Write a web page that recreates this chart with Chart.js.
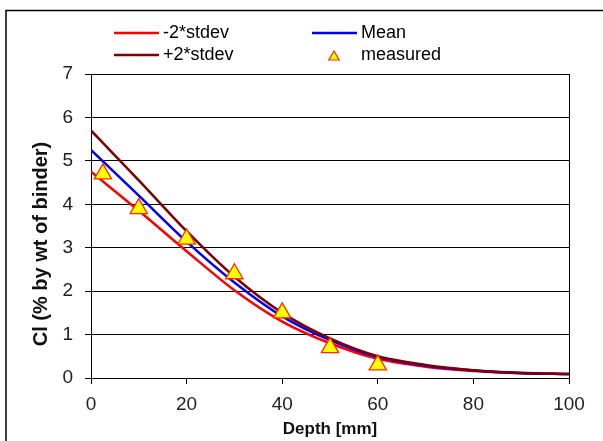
<!DOCTYPE html>
<html>
<head>
<meta charset="utf-8">
<script src="https://cdn.jsdelivr.net/npm/chart.js@4/dist/chart.umd.min.js"></script>
<style>
    html, body { margin: 0; padding: 0; background: #fff; }
    #wrap { width: 603px; height: 441px; }
</style>
</head>
<body>
<div id="wrap"><canvas id="chloride-chart" width="603" height="441"></canvas></div>
<script>
const depths = [0, 10, 20, 30, 40, 50, 60, 70, 80, 90, 100]
const lowerCurve = [4.75, 3.85, 2.92, 2.02, 1.3, 0.8, 0.44, 0.26, 0.16, 0.11, 0.09]
const meanCurve = [5.25, 4.2, 3.14, 2.2, 1.42, 0.87, 0.48, 0.28, 0.17, 0.11, 0.09]
const upperCurve = [5.7, 4.55, 3.38, 2.33, 1.5, 0.91, 0.5, 0.3, 0.18, 0.12, 0.09]

const measuredDepth = [2.5, 10, 20, 30, 40, 50, 60]
const measuredCl = [4.7, 3.9, 3.2, 2.4, 1.5, 0.7, 0.3]

const xTicks = [0, 20, 40, 60, 80, 100]
const yTicks = [0, 1, 2, 3, 4, 5, 6, 7]

const yTitle = 'Cl (% by wt of binder)'

function toPoints(xs, ys) {
    return xs.map((x, i) => ({ x: x, y: ys[i] }))
}

function lineSet(label, values, color, order) {
    return {
        label: label,
        data: toPoints(depths, values),
        showLine: true,
        borderColor: color,
        backgroundColor: color,
        borderWidth: 2.5,
        pointRadius: 0,
        cubicInterpolationMode: 'monotone',
        order: order
    }
}

// frame round the whole picture, right edge of the plot, y title and the legend
const decorations = {
    id: 'decorations',
    beforeDraw(chart) {
        const ctx = chart.ctx
        ctx.save()
        ctx.fillStyle = '#fff'
        ctx.fillRect(0, 0, chart.width, chart.height)
        ctx.restore()
    },
    afterDraw(chart) {
        const ctx = chart.ctx
        const area = chart.chartArea
        ctx.save()
        ctx.strokeStyle = '#000'
        ctx.lineWidth = 1.5
        ctx.beginPath()
        ctx.moveTo(6, chart.height + 2)
        ctx.lineTo(6, 10.5)
        ctx.lineTo(chart.width + 2, 10.5)
        ctx.stroke()

        ctx.lineWidth = 1
        ctx.beginPath()
        ctx.moveTo(area.right + 0.5, area.top)
        ctx.lineTo(area.right + 0.5, area.bottom)
        ctx.stroke()

        // y axis title sits a bit below the middle of the axis in the original
        ctx.save()
        ctx.translate(41, 244)
        ctx.rotate(-Math.PI / 2)
        ctx.font = 'bold 20px "Liberation Sans", Arial, sans-serif'
        ctx.fillStyle = '#111'
        ctx.textAlign = 'center'
        ctx.textBaseline = 'middle'
        ctx.fillText(yTitle, 0, 0)
        ctx.restore()

        // legend: two rows, two columns
        const slots = [
            { ds: 0, x: 114, y: 33 },
            { ds: 1, x: 312, y: 33 },
            { ds: 2, x: 114, y: 55 },
            { ds: 3, x: 312, y: 55 }
        ]
        ctx.font = '18px "Liberation Sans", Arial, sans-serif'
        ctx.textBaseline = 'middle'
        ctx.textAlign = 'left'
        slots.forEach(s => {
            const ds = chart.data.datasets[s.ds]
            if (ds.showLine) {
                ctx.strokeStyle = ds.borderColor
                ctx.lineWidth = 2.5
                ctx.beginPath()
                ctx.moveTo(s.x, s.y)
                ctx.lineTo(s.x + 45, s.y)
                ctx.stroke()
            } else {
                const cx = s.x + 22, cy = s.y + 2, r = 6
                ctx.fillStyle = ds.backgroundColor
                ctx.strokeStyle = ds.borderColor
                ctx.lineWidth = 1.2
                ctx.beginPath()
                ctx.moveTo(cx, cy - r)
                ctx.lineTo(cx + r * 0.866, cy + r * 0.5)
                ctx.lineTo(cx - r * 0.866, cy + r * 0.5)
                ctx.closePath()
                ctx.fill()
                ctx.stroke()
            }
            ctx.fillStyle = '#000'
            ctx.fillText(ds.label, s.x + 49, s.y)
        })
        ctx.restore()
    }
}

const tickFont = { family: '"Liberation Sans", Arial, sans-serif', size: 19 }
const titleFont = { family: '"Liberation Sans", Arial, sans-serif', size: 17, weight: 'bold' }

new Chart(document.getElementById('chloride-chart'), {
    type: 'scatter',
    data: {
        datasets: [
            lineSet('-2*stdev', lowerCurve, '#ff0000', 3),
            lineSet('Mean', meanCurve, '#0000ff', 2),
            lineSet('+2*stdev', upperCurve, '#800000', 1),
            {
                label: 'measured',
                data: toPoints(measuredDepth, measuredCl),
                showLine: false,
                pointStyle: 'triangle',
                pointRadius: 10,
                pointBorderWidth: 1.3,
                backgroundColor: '#ffff00',
                borderColor: '#ff2a00',
                order: 0
            }
        ]
    },
    options: {
        responsive: false,
        animation: false,
        layout: { padding: { top: 74, right: 34, left: 0, bottom: 0 } },
        plugins: {
            legend: { display: false },
            tooltip: { enabled: false }
        },
        scales: {
            x: {
                type: 'linear',
                min: 0,
                max: 100,
                afterBuildTicks: scale => { scale.ticks = xTicks.map(v => ({ value: v })) },
                afterFit: scale => { scale.height = 63 },
                grid: { drawOnChartArea: false, drawTicks: true, tickLength: 6, color: '#000' },
                border: { color: '#000', width: 1 },
                ticks: { color: '#222', font: tickFont, padding: 9, maxRotation: 0 },
                title: { display: true, text: 'Depth [mm]', color: '#111', font: titleFont, padding: { top: 0, bottom: 1 } }
            },
            y: {
                type: 'linear',
                min: 0,
                max: 7,
                afterBuildTicks: scale => { scale.ticks = yTicks.map(v => ({ value: v })) },
                afterFit: scale => { scale.width = 91 },
                grid: { color: '#000', lineWidth: 1, tickLength: 6 },
                border: { color: '#000', width: 1 },
                ticks: { color: '#222', font: tickFont, padding: 12 }
            }
        }
    },
    plugins: [decorations]
})
</script>
</body>
</html>
